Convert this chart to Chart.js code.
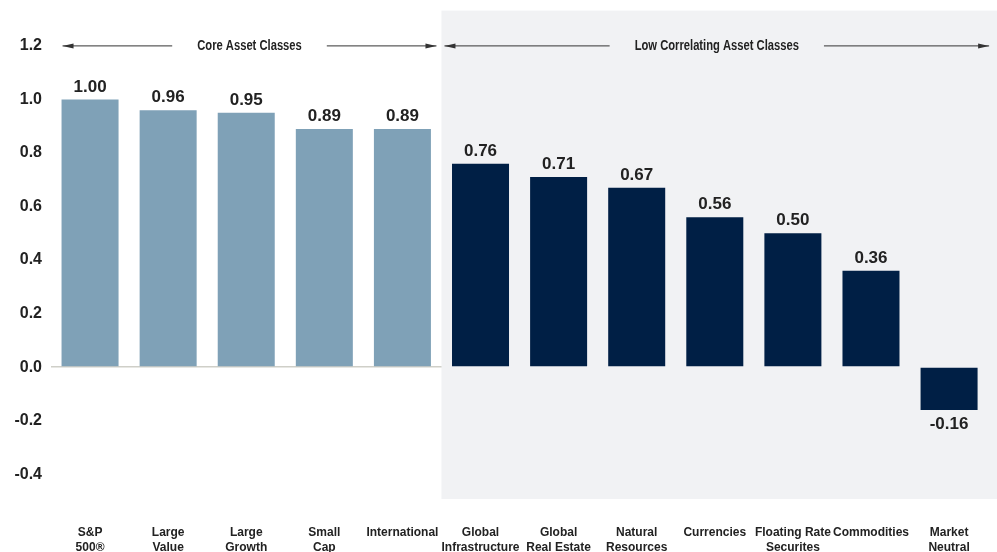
<!DOCTYPE html>
<html>
<head>
<meta charset="utf-8">
<script src="https://cdn.jsdelivr.net/npm/chart.js@4"></script>
<style>
  html, body { margin: 0; padding: 0; background: #fff; }
  #wrap { width: 997px; height: 552px; position: relative; }
</style>
</head>
<body>
<div id="wrap"><canvas id="correlChart"></canvas></div>
<script>
// Dados
const categories = [
    ['S&P', '500®'], ['Large', 'Value'], ['Large', 'Growth'], ['Small', 'Cap'], 'International',
    ['Global', 'Infrastructure'], ['Global', 'Real Estate'], ['Natural', 'Resources'], 'Currencies',
    ['Floating Rate', 'Securites'], 'Commodities', ['Market', 'Neutral']
];
const correlations = [1.00, 0.96, 0.95, 0.89, 0.89, 0.76, 0.71, 0.67, 0.56, 0.50, 0.36, -0.16];
const groupNames = ['Core Asset Classes', 'Low Correlating Asset Classes'];
const groupSizes = [5, 7];
const yTicks = [-0.4, -0.2, 0.0, 0.2, 0.4, 0.6, 0.8, 1.0, 1.2];

const coreColor = '#7fa1b7';
const lowColor = '#001f45';
const panelColor = '#f1f2f4';
const sans = '"Liberation Sans", Arial, sans-serif';

const barColors = correlations.map((v, i) => i < groupSizes[0] ? coreColor : lowColor);

// Painel cinza atrás das classes de baixa correlação
const panelPlugin = {
    id: 'panel',
    beforeDatasetsDraw(chart) {
        const { ctx, chartArea, scales: { x } } = chart;
        const b = groupSizes[0];
        const left = (x.getPixelForValue(b - 1) + x.getPixelForValue(b)) / 2;
        const top = Math.max(0, chartArea.top - 8);
        ctx.save();
        ctx.fillStyle = panelColor;
        ctx.fillRect(left, top, chart.width - left, chartArea.bottom + 1 - top);
        ctx.restore();
    }
};

// Texto "condensado": escala horizontal
const squeeze = 0.8;

// Setas com o nome dos grupos
function arrow(ctx, x1, x2, y, label) {
    const mid = (x1 + x2) / 2;
    const textW = ctx.measureText(label).width * squeeze;
    const gap = textW / 2 + 25;
    ctx.strokeStyle = '#333';
    ctx.fillStyle = '#333';
    ctx.lineWidth = 1;
    ctx.beginPath();
    ctx.moveTo(x1, y); ctx.lineTo(mid - gap, y);
    ctx.moveTo(mid + gap, y); ctx.lineTo(x2, y);
    ctx.stroke();
    ctx.beginPath();
    ctx.moveTo(x1, y); ctx.lineTo(x1 + 11, y - 2.5); ctx.lineTo(x1 + 11, y + 2.5); ctx.closePath();
    ctx.moveTo(x2, y); ctx.lineTo(x2 - 11, y - 2.5); ctx.lineTo(x2 - 11, y + 2.5); ctx.closePath();
    ctx.fill();
    ctx.save();
    ctx.translate(mid, y);
    ctx.scale(squeeze, 1);
    ctx.fillStyle = '#222';
    ctx.fillText(label, 0, 0);
    ctx.restore();
}

const groupPlugin = {
    id: 'groups',
    afterDatasetsDraw(chart) {
        const { ctx, chartArea, scales: { x, y } } = chart;
        const meta = chart.getDatasetMeta(0);
        const yPos = y.getPixelForValue(1.2);
        const b = groupSizes[0];
        const boundary = (x.getPixelForValue(b - 1) + x.getPixelForValue(b)) / 2;
        ctx.save();
        ctx.font = 'bold 14px ' + sans;
        ctx.textAlign = 'center';
        ctx.textBaseline = 'middle';
        const left0 = meta.data[0].x - meta.data[0].width / 2 + 1;
        arrow(ctx, left0, boundary - 5, yPos, groupNames[0]);
        arrow(ctx, boundary + 3, chartArea.right + 1, yPos, groupNames[1]);

        // Rótulos de valor nas barras
        ctx.font = 'bold 17px ' + sans;
        ctx.fillStyle = '#222';
        meta.data.forEach((bar, i) => {
            const v = correlations[i];
            if (v >= 0) {
                ctx.textBaseline = 'bottom';
                ctx.fillText(v.toFixed(2), bar.x, bar.y - 4);
            } else {
                ctx.textBaseline = 'top';
                ctx.fillText(v.toFixed(2), bar.x, bar.y + 6);
            }
        });
        ctx.restore();
    }
};

new Chart(document.getElementById('correlChart'), {
    type: 'bar',
    data: {
        labels: categories,
        datasets: [{
            data: correlations,
            backgroundColor: barColors,
            barPercentage: 0.73,
            categoryPercentage: 1.0
        }]
    },
    options: {
        responsive: true,
        maintainAspectRatio: false,
        animation: false,
        layout: { padding: { top: 0, right: 6, left: 0, bottom: 0 } },
        plugins: {
            legend: { display: false },
            tooltip: { enabled: false }
        },
        scales: {
            x: {
                grid: { display: false, drawTicks: false },
                border: { display: false },
                afterFit: (s) => { s.height = 54; },
                ticks: {
                    padding: 27,
                    maxRotation: 0,
                    autoSkip: false,
                    color: '#222',
                    font: { family: sans, size: 12, weight: 'bold', lineHeight: 1.25 }
                }
            },
            y: {
                min: -0.489,
                max: 1.302,
                afterFit: (s) => { s.width = 51; },
                afterBuildTicks: (s) => { s.ticks = yTicks.map(v => ({ value: v })); },
                border: { display: false },
                grid: {
                    drawTicks: false,
                    color: (c) => c.tick && Math.abs(c.tick.value) < 1e-9 ? '#cfcfc8' : 'rgba(0,0,0,0)',
                    lineWidth: 1.5
                },
                ticks: {
                    padding: 9,
                    color: '#222',
                    font: { family: sans, size: 16, weight: 'bold' },
                    callback: (v) => Number(v).toFixed(1)
                }
            }
        }
    },
    plugins: [panelPlugin, groupPlugin]
});
</script>
</body>
</html>
